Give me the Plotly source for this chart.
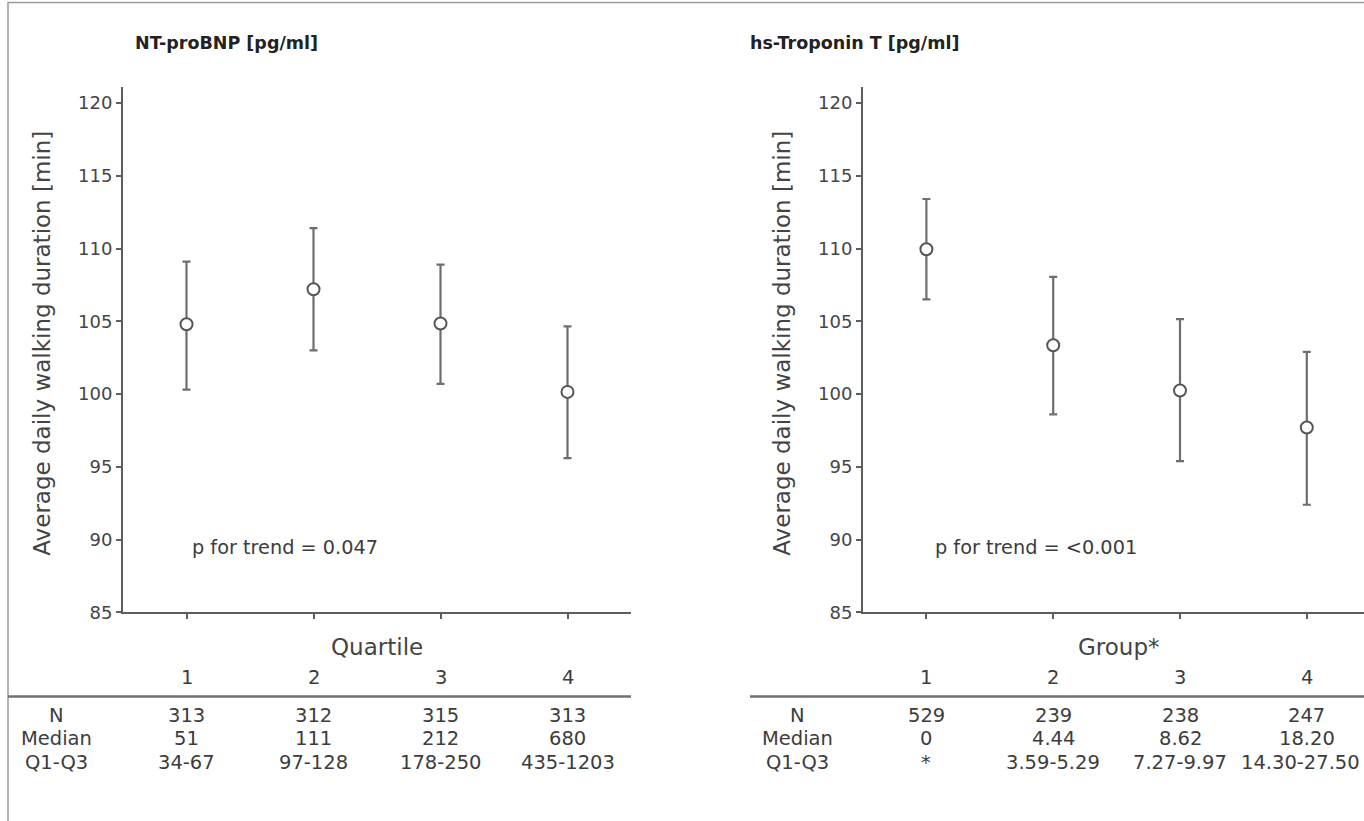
import plotly.graph_objects as go

W, H = 1364, 821

# ---- data ----
groups = [1, 2, 3, 4]
bnp_mean = [104.8, 107.2, 104.85, 100.15]
bnp_lo = [100.3, 103.0, 100.7, 95.6]
bnp_hi = [109.1, 111.4, 108.9, 104.65]

trop_mean = [109.95, 103.35, 100.25, 97.7]
trop_lo = [106.5, 98.6, 95.4, 92.4]
trop_hi = [113.4, 108.05, 105.15, 102.9]

row_labels = ["N", "Median", "Q1-Q3"]
bnp_N = ["313", "312", "315", "313"]
bnp_median = ["51", "111", "212", "680"]
bnp_q = ["34-67", "97-128", "178-250", "435-1203"]
trop_N = ["529", "239", "238", "247"]
trop_median = ["0", "4.44", "8.62", "18.20"]
trop_q = ["*", "3.59-5.29", "7.27-9.97", "14.30-27.50"]

y_ticks = [85, 90, 95, 100, 105, 110, 115, 120]
titles = ["NT-proBNP [pg/ml]", "hs-Troponin T [pg/ml]"]
xtitles = ["Quartile", "Group*"]
ptexts = ["p for trend = 0.047", "p for trend = <0.001"]
ytitle = "Average daily walking duration [min]"

FONT = "DejaVu Sans, Verdana, sans-serif"
TXT = "#3c3c3c"
AX = "#5e5e5e"

def px(x):
    return x / W

def py(y):
    return (H - y) / H

fig = go.Figure()

for mean, lo, hi, xa, ya in [(bnp_mean, bnp_lo, bnp_hi, "x", "y"),
                             (trop_mean, trop_lo, trop_hi, "x2", "y2")]:
    fig.add_trace(go.Scatter(
        x=groups, y=mean, mode="markers", xaxis=xa, yaxis=ya,
        marker=dict(symbol="circle", size=12, color="white",
                    line=dict(color="#555555", width=2)),
        error_y=dict(type="data", symmetric=False,
                     array=[h - m for h, m in zip(hi, mean)],
                     arrayminus=[m - l for m, l in zip(mean, lo)],
                     color="#6e6e6e", thickness=2.2, width=4),
        showlegend=False, hoverinfo="skip"))

ydom = [py(620), py(88)]
axis_common = dict(showline=True, linecolor=AX, linewidth=2, ticks="outside",
                   tickcolor=AX, ticklen=5, tickwidth=1.5, showgrid=False,
                   zeroline=False)
tickfont = dict(size=18, color="#454545", family=FONT)

fig.update_layout(
    width=W, height=H, margin=dict(l=0, r=0, t=0, b=0),
    paper_bgcolor="white", plot_bgcolor="white",
    font=dict(family=FONT, color=TXT),
    xaxis=dict(domain=[px(123), px(631)], range=[0.5, 4.5], tickvals=groups,
               showticklabels=False, anchor="y", **axis_common),
    yaxis=dict(domain=ydom, range=[85, 121.1], tickvals=y_ticks,
               tickfont=tickfont, anchor="x", **axis_common),
    xaxis2=dict(domain=[px(863), 1.0], range=[0.5, 0.5 + (W - 863) / 126.8],
                tickvals=groups, showticklabels=False, anchor="y2", **axis_common),
    yaxis2=dict(domain=ydom, range=[85, 121.1], tickvals=y_ticks,
                tickfont=tickfont, anchor="x2", **axis_common),
)

ann = []
shapes = []
# outer border
shapes.append(dict(type="rect", xref="paper", yref="paper", x0=px(8), x1=1.02,
                   y0=-0.02, y1=py(2.5), line=dict(color="#9a9a9a", width=1.5)))

panels = [
    dict(xref="x", title_x=226, ylab_x=42, p_x=190, line_x0=8, line_x1=631,
         row_x=56, vals=[bnp_N, bnp_median, bnp_q], xt_center=2.5),
    dict(xref="x2", title_x=855, ylab_x=782, p_x=933, line_x0=750, line_x1=W + 5,
         row_x=797, vals=[trop_N, trop_median, trop_q], xt_center=2.52),
]
row_y = [724, 748, 772]
TBL = 19.5

def A(**kw):
    d = dict(showarrow=False, xanchor="center", yanchor="middle")
    d.update(kw)
    ann.append(d)

for i, p in enumerate(panels):
    A(text="<b>" + titles[i] + "</b>", xref="paper", yref="paper",
      x=px(p["title_x"]), y=py(44), font=dict(size=17.5, color="#222222"))
    A(text=ytitle, xref="paper", yref="paper", x=px(p["ylab_x"]), y=py(348),
      textangle=-90, font=dict(size=23, color="#444444"))
    A(text=ptexts[i], xref="paper", yref="paper", x=px(p["p_x"]), y=py(554),
      xanchor="left", font=dict(size=19.3, color=TXT))
    A(text=xtitles[i], xref=p["xref"], yref="paper", x=p["xt_center"], y=py(655),
      font=dict(size=23, color="#444444"))
    for g in groups:
        A(text=str(g), xref=p["xref"], yref="paper", x=g, y=py(686),
          font=dict(size=TBL, color=TXT))
    shapes.append(dict(type="line", xref="paper", yref="paper", x0=px(p["line_x0"]),
                       x1=px(p["line_x1"]), y0=py(705), y1=py(705),
                       line=dict(color="#707070", width=2.5)))
    for r, lab in enumerate(row_labels):
        A(text=lab, xref="paper", yref="paper", x=px(p["row_x"]), y=py(row_y[r]),
          font=dict(size=TBL, color=TXT))
        for k, (g, v) in enumerate(zip(groups, p["vals"][r])):
            # keep the widest right-edge cell inside the page
            shift = -6 if (i == 1 and k == 3 and r == 2) else 0
            A(text=v, xref=p["xref"], yref="paper", x=g, y=py(row_y[r]),
              xshift=shift, font=dict(size=TBL, color=TXT))

fig.update_layout(annotations=ann, shapes=shapes)
fig.write_html("out.html")
